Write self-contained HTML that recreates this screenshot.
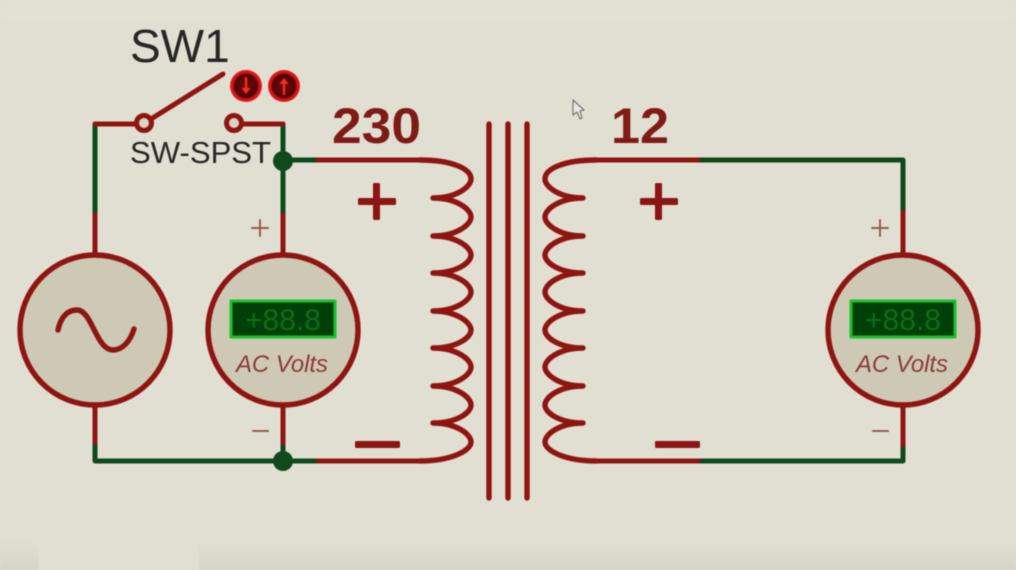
<!DOCTYPE html>
<html><head><meta charset="utf-8"><style>
html,body{margin:0;padding:0;background:#e1dfd1;width:1016px;height:570px;overflow:hidden}
svg{display:block;filter:blur(.5px)}
text{font-family:"Liberation Sans",sans-serif}
</style></head><body>
<svg width="1016" height="570" viewBox="0 0 1016 570" xmlns="http://www.w3.org/2000/svg">
<defs>
<linearGradient id="b" x1="0" y1="0" x2="0" y2="1"><stop offset="0" stop-color="#e1dfd1"/><stop offset="1" stop-color="#d6d5c7"/></linearGradient>
<radialGradient id="a"><stop offset="0" stop-color="#7a0808"/><stop offset=".72" stop-color="#4f0505"/><stop offset=".8" stop-color="#c50f12"/><stop offset="1" stop-color="#ee1a1c"/></radialGradient>
</defs>
<rect width="1016" height="570" fill="#e1dfd1"/>
<rect x="0" y="540" width="38" height="30" fill="url(#b)"/>
<rect x="199" y="541" width="817" height="29" fill="url(#b)"/>
<rect x="0" y="0" width="1016" height="20" fill="#e3e1d4"/>
<g fill="none" stroke-linecap="round" stroke-linejoin="round" stroke-width="5">
<!-- green wires -->
<g stroke="#0f4a1e">
<path d="M95 215V124"/>
<path d="M283 215V124"/>
<path d="M283 160H318"/>
<path d="M95 443V461H318"/>
<path d="M283 443V461"/>
<path d="M698 160H903V212"/>
<path d="M698 461H903V445"/>
</g>
<!-- red wires -->
<g stroke="#8f1512">
<path d="M95 124H136"/>
<path d="M242 124H283"/>
<path d="M151 119L223 74"/>
<path d="M95 215V255M283 215V255M903 212V255"/>
<path d="M95 405V443M283 405V443M903 405V445"/>
<path d="M318 160H420"/>
<path d="M318 461H420"/>
<path d="M698 160H596"/>
<path d="M698 461H596"/>
<!-- left coil -->
<path stroke-width="5.4" d="M420 160C450 160 471 168 471 179C471 187 456 198 433 198C456 198 471 209 471 217C471 225 456 236 433 236C456 236 471 247 471 255C471 263 456 273 433 273C456 273 471 284 471 292C471 300 456 311 433 311C456 311 471 322 471 330C471 338 456 348 433 348C456 348 471 359 471 367C471 375 456 386 433 386C456 386 471 397 471 405C471 413 456 423 433 423C456 423 471 434 471 442C471 451 450 461 420 461"/>
<!-- right coil -->
<path stroke-width="5.4" d="M596 160C566 160 545 168 545 179C545 187 560 198 583 198C560 198 545 209 545 217C545 225 560 236 583 236C560 236 545 247 545 255C545 263 560 273 583 273C560 273 545 284 545 292C545 300 560 311 583 311C560 311 545 322 545 330C545 338 560 348 583 348C560 348 545 359 545 367C545 375 560 386 583 386C560 386 545 397 545 405C545 413 560 423 583 423C560 423 545 434 545 442C545 451 566 461 596 461"/>
<!-- core -->
<path stroke-width="5.4" d="M489 124V498M508 124V498M527 124V498"/>
</g>
<!-- switch contacts -->
<g fill="#d8d4c2" stroke="#8f1512" stroke-width="5">
<circle cx="144" cy="123" r="7.5"/>
<circle cx="234" cy="123" r="7.5"/>
</g>
<!-- junctions -->
<circle cx="283" cy="161" r="10" fill="#0f4a1e"/>
<circle cx="283" cy="461" r="10" fill="#0f4a1e"/>
<!-- actuators -->
<circle cx="246" cy="86" r="16" fill="url(#a)"/>
<circle cx="284" cy="86" r="16" fill="url(#a)"/>
<path d="M246 78V90" stroke="#f03022" stroke-width="2.4"/><path d="M241.500 88L246 94L250.500 88Z" fill="#f03022"/>
<path d="M284 94V82" stroke="#f03022" stroke-width="2.4"/><path d="M279.500 84L284 78L288.500 84Z" fill="#f03022"/>
<!-- source & meters -->
<g fill="#cdc9b4" stroke="#8f1512" stroke-width="5.4">
<circle cx="95" cy="330" r="75"/>
<circle cx="283" cy="330" r="75"/>
<circle cx="903" cy="330" r="75"/>
</g>
<path d="M58 330C61 316 68 310 77 310C92 310 96 350 113 350C122 350 130 342 134 329" fill="none" stroke="#8f1512" stroke-width="5.400" stroke-linecap="round"/>
<g fill="#013f08" stroke="#19c22b" stroke-width="3">
<rect x="231" y="301" width="104" height="36"/>
<rect x="851" y="301" width="104" height="36"/>
</g>
<g font-size="30" fill="#0b6f1a" text-anchor="middle">
<text x="283" y="330" textLength="76" lengthAdjust="spacingAndGlyphs">+88.8</text>
<text x="903" y="330" textLength="76" lengthAdjust="spacingAndGlyphs">+88.8</text>
</g>
<g font-size="24" font-style="italic" fill="#8c3a36" text-anchor="middle">
<text x="282" y="372" textLength="92" lengthAdjust="spacingAndGlyphs">AC Volts</text>
<text x="902" y="372" textLength="92" lengthAdjust="spacingAndGlyphs">AC Volts</text>
</g>
<!-- meter signs -->
<g stroke="#9a5a52" stroke-width="2" fill="none">
<path d="M252 228H268M260 220V236"/>
<path d="M872 228H888M880 220V236"/>
<path d="M253 431H268"/>
<path d="M873 431H888"/>
</g>
<!-- labels -->
<text x="130" y="62" font-size="46" fill="#262624">SW1</text>
<text x="130" y="163" font-size="31" fill="#262624" textLength="141" lengthAdjust="spacingAndGlyphs">SW-SPST</text>
<text x="332" y="143" font-size="50" font-weight="bold" fill="#7f1a16" textLength="89" lengthAdjust="spacingAndGlyphs">230</text>
<text x="611" y="143" font-size="50" font-weight="bold" fill="#7f1a16" textLength="58" lengthAdjust="spacingAndGlyphs">12</text>
<g fill="#8a1512">
<rect x="358" y="198" width="38" height="7" rx="1.500"/><rect x="373" y="183" width="7" height="37" rx="1.500"/>
<rect x="640" y="198" width="38" height="7" rx="1.500"/><rect x="655" y="183" width="7" height="37" rx="1.500"/>
<rect x="355" y="441" width="45" height="7" rx="1.500"/>
<rect x="655" y="441" width="45" height="7" rx="1.500"/>
</g>
<!-- cursor -->
<path d="M573 100V115L577 112L580 119L582 118L580 111L584 110Z" fill="#e8e8e2" stroke="#77776f" stroke-width="1.200"/>
</svg>
</body></html>
